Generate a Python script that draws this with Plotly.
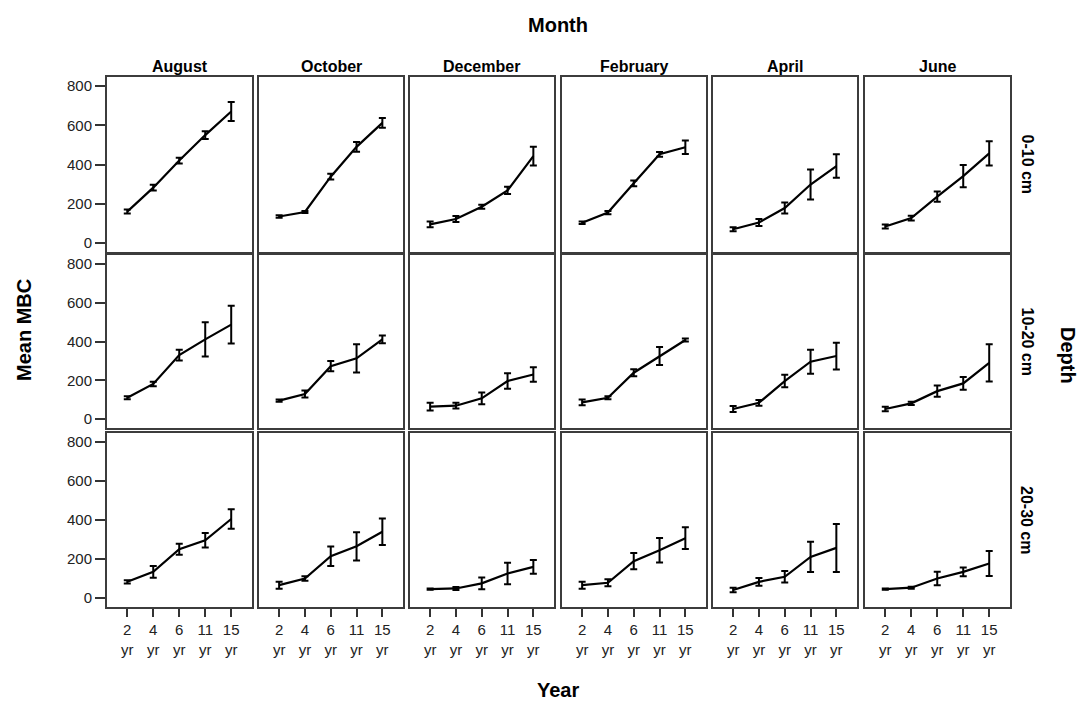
import plotly.graph_objects as go

months = ["August", "October", "December", "February", "April", "June"]
depths = ["0-10 cm", "10-20 cm", "20-30 cm"]
years = ["2<br>yr", "4<br>yr", "6<br>yr", "11<br>yr", "15<br>yr"]

# Mean MBC per depth (rows) and month (columns), years 2,4,6,11,15
mean_0_10 = [
    [160, 282, 420, 550, 670],
    [135, 158, 338, 490, 612],
    [95, 122, 185, 268, 443],
    [103, 155, 304, 452, 488],
    [70, 104, 178, 298, 392],
    [84, 127, 236, 341, 457],
]
err_0_10 = [
    [10, 15, 15, 20, 48],
    [6, 5, 15, 25, 25],
    [15, 15, 10, 18, 48],
    [6, 8, 15, 12, 34],
    [10, 18, 28, 77, 60],
    [10, 12, 26, 57, 62],
]
mean_10_20 = [
    [110, 181, 330, 411, 487],
    [95, 129, 273, 313, 411],
    [64, 69, 107, 196, 230],
    [86, 110, 239, 325, 408],
    [52, 84, 196, 296, 325],
    [52, 81, 144, 184, 290],
]
err_10_20 = [
    [8, 12, 28, 88, 97],
    [6, 18, 27, 73, 20],
    [20, 15, 30, 40, 37],
    [15, 8, 18, 46, 8],
    [15, 15, 32, 62, 69],
    [12, 8, 29, 33, 96],
]
mean_20_30 = [
    [83, 134, 250, 296, 405],
    [66, 100, 214, 265, 340],
    [46, 49, 75, 126, 160],
    [66, 78, 189, 245, 307],
    [41, 83, 109, 211, 257],
    [46, 53, 100, 134, 177],
]
err_20_30 = [
    [8, 30, 28, 37, 50],
    [18, 12, 50, 72, 68],
    [3, 8, 30, 55, 35],
    [18, 18, 42, 63, 56],
    [12, 20, 30, 77, 123],
    [3, 5, 35, 22, 64],
]
means = [mean_0_10, mean_10_20, mean_20_30]
errs = [err_0_10, err_10_20, err_20_30]

W, H = 1084, 703
col_px = [(107, 252), (259, 403), (410, 554), (562, 706), (713, 857), (865, 1010)]
row_px = [(77, 252), (255, 428), (433, 607)]

FONT = "Liberation Sans, Arial, sans-serif"
fig = go.Figure()
layout = {}
xs = list(range(len(years)))
for r in range(3):
    for c in range(6):
        idx = r * 6 + c + 1
        xa = "x" if idx == 1 else f"x{idx}"
        ya = "y" if idx == 1 else f"y{idx}"
        fig.add_trace(go.Scatter(
            x=xs, y=means[r][c], mode="lines",
            line=dict(color="black", width=2.2),
            error_y=dict(type="data", array=errs[r][c], visible=True,
                         color="black", thickness=2, width=3.5),
            xaxis=xa, yaxis=ya, showlegend=False, hoverinfo="skip"))
        x0, x1 = col_px[c]
        y0, y1 = row_px[r]
        layout["xaxis" + ("" if idx == 1 else str(idx))] = dict(
            domain=[x0 / W, x1 / W], anchor=ya, range=[-0.78, 4.8],
            showgrid=False, zeroline=False, showline=True, mirror=True,
            linecolor="#3c3c3c", linewidth=2,
            tickmode="array", tickvals=xs, ticktext=years,
            showticklabels=(r == 2), ticks="outside" if r == 2 else "",
            ticklen=8, tickwidth=1.5, tickcolor="#333",
            tickfont=dict(family=FONT, size=15, color="#222"), fixedrange=True)
        layout["yaxis" + ("" if idx == 1 else str(idx))] = dict(
            domain=[1 - y1 / H, 1 - y0 / H], anchor=xa, range=[-46, 846],
            showgrid=False, zeroline=False, showline=True, mirror=True,
            linecolor="#3c3c3c", linewidth=2,
            tickvals=[0, 200, 400, 600, 800],
            showticklabels=(c == 0), ticks="outside" if c == 0 else "",
            ticklen=10, tickwidth=1.5, tickcolor="#333",
            tickfont=dict(family=FONT, size=15, color="#222"), fixedrange=True)


def ann(text, x, y, size, angle=0):
    return dict(text=f"<b>{text}</b>", x=x / W, y=1 - y / H, xref="paper", yref="paper",
                xanchor="center", yanchor="middle", showarrow=False, textangle=angle,
                font=dict(family=FONT, size=size, color="black"))


annotations = []
for c, m in enumerate(months):
    x0, x1 = col_px[c]
    annotations.append(ann(m, (x0 + x1) / 2, 66, 16))
for r, d in enumerate(depths):
    y0, y1 = row_px[r]
    annotations.append(ann(d, 1027, (y0 + y1) / 2, 16, 90))
annotations += [
    ann("Month", 558, 25, 20),
    ann("Year", 558, 690, 20),
    ann("Mean MBC", 24, 330, 20, -90),
    ann("Depth", 1068, 355, 20, 90),
]

fig.update_layout(
    width=W, height=H, margin=dict(l=0, r=0, t=0, b=0),
    paper_bgcolor="white", plot_bgcolor="white",
    annotations=annotations, **layout)
fig.write_html("out.html", config={"displayModeBar": False},
               post_script="document.body.style.margin='0';document.body.style.overflow='hidden';")
